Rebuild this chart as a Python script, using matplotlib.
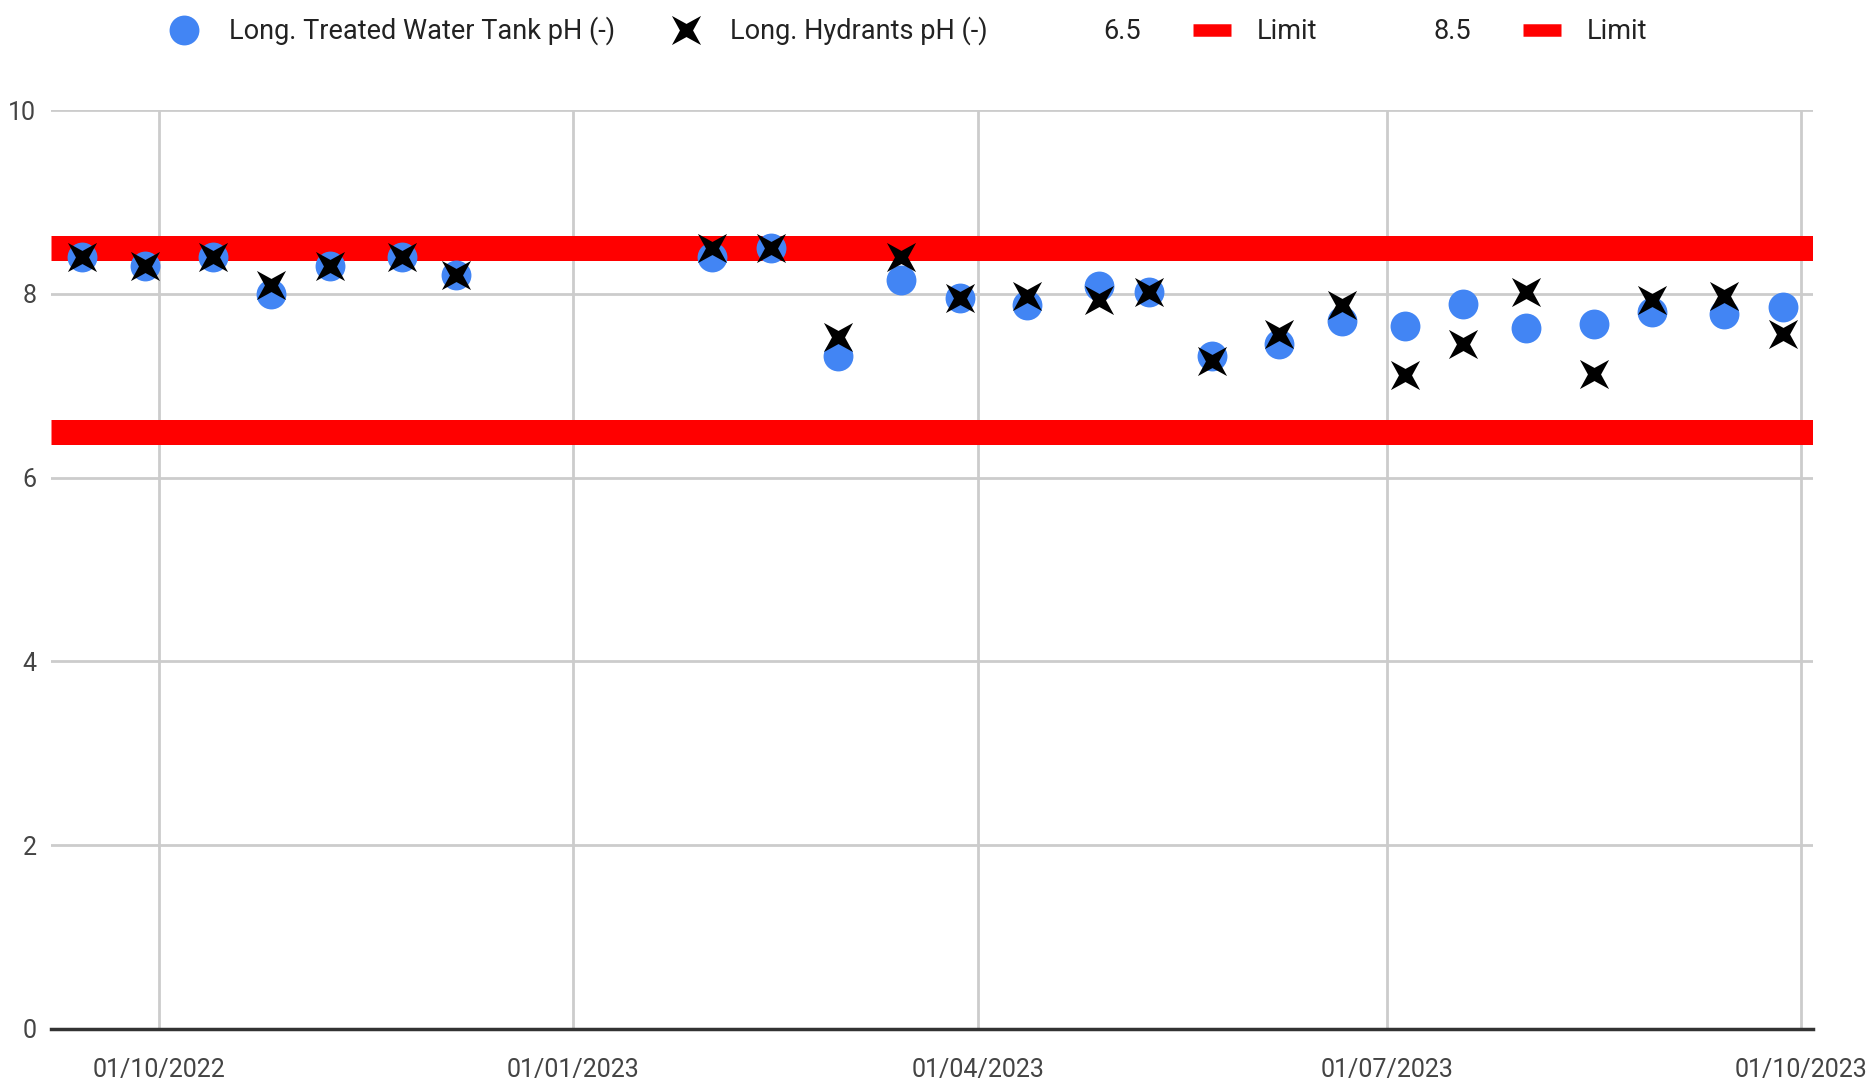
import datetime as dt

import matplotlib
matplotlib.use("Agg")
import matplotlib.pyplot as plt
import matplotlib.dates as mdates
from matplotlib.lines import Line2D

# sampling dates and pH readings
sample_dates = [
    "2022-09-14", "2022-09-28", "2022-10-13", "2022-10-26", "2022-11-08",
    "2022-11-24", "2022-12-06", "2023-02-01", "2023-02-14", "2023-03-01",
    "2023-03-15", "2023-03-28", "2023-04-12", "2023-04-28", "2023-05-09",
    "2023-05-23", "2023-06-07", "2023-06-21", "2023-07-05", "2023-07-18",
    "2023-08-01", "2023-08-16", "2023-08-29", "2023-09-14", "2023-09-27",
]
tank_ph = [
    8.40, 8.30, 8.40, 8.00, 8.30, 8.40, 8.20, 8.40, 8.50, 7.32,
    8.15, 7.95, 7.88, 8.08, 8.02, 7.32, 7.45, 7.70, 7.65, 7.89,
    7.63, 7.67, 7.80, 7.78, 7.86,
]
hydrant_ph = [
    8.40, 8.30, 8.40, 8.10, 8.30, 8.40, 8.20, 8.50, 8.50, 7.53,
    8.40, 7.95, 7.98, 7.93, 8.02, 7.27, 7.56, 7.88, 7.12, 7.45,
    8.02, 7.13, 7.93, 7.98, 7.56,
]
lower_limit = 6.5
upper_limit = 8.5
series_labels = ["Long. Treated Water Tank pH (-)", "Long. Hydrants pH (-)"]
limit_labels = ["6.5", "Limit", "8.5", "Limit"]
y_ticks = [0, 2, 4, 6, 8, 10]

BLUE = "#4285F4"
RED = "#FF0000"
GRID = "#cccccc"

plt.rcParams["font.family"] = ["Roboto", "DejaVu Sans"]

dates = [dt.datetime.strptime(d, "%Y-%m-%d") for d in sample_dates]

# google-style "x": four pointed arms with a fat middle
x_marker = [(1, 1), (0, 0.45), (-1, 1), (-0.45, 0), (-1, -1),
            (0, -0.45), (1, -1), (0.45, 0), (1, 1)]

fig = plt.figure(figsize=(18.76, 10.86), dpi=100)
ax = fig.add_axes([0.02719, 0.05249, 0.93923, 0.84622])

ax.axhline(lower_limit, color=RED, lw=18, solid_capstyle="butt", zorder=2)
ax.axhline(upper_limit, color=RED, lw=18, solid_capstyle="butt", zorder=2)
ax.plot(dates, tank_ph, ls="none", marker="o", ms=21.5, color=BLUE,
        mec="none", zorder=3)
ax.plot(dates, hydrant_ph, ls="none", marker=x_marker, ms=21, color="black",
        mec="none", zorder=4)

start = mdates.date2num(dt.datetime(2022, 10, 1))
ax.set_xlim(start - 24.0, start + 367.7)
ax.set_ylim(0, 10)
ax.set_yticks(y_ticks)
ax.xaxis.set_major_locator(mdates.MonthLocator(bymonth=[1, 4, 7, 10]))
ax.xaxis.set_major_formatter(mdates.DateFormatter("%d/%m/%Y"))

ax.grid(True, color=GRID, lw=2, zorder=0)
ax.set_axisbelow(True)
for side in ["top", "right", "left"]:
    ax.spines[side].set_visible(False)
ax.spines["bottom"].set_color("#333333")
ax.spines["bottom"].set_linewidth(2.5)
ax.spines["bottom"].set_zorder(5)
ax.tick_params(axis="both", length=0, labelsize=18, labelcolor="#444444")
ax.tick_params(axis="y", pad=10.5)
ax.tick_params(axis="x", pad=21)

handles = [
    Line2D([], [], ls="none", marker="o", ms=21.5, color=BLUE, mec="none"),
    Line2D([], [], ls="none", marker=x_marker, ms=21, color="black", mec="none"),
    Line2D([], [], ls="none"),
    Line2D([], [], color=RED, lw=9, solid_capstyle="butt"),
    Line2D([], [], ls="none"),
    Line2D([], [], color=RED, lw=9, solid_capstyle="butt"),
]
fig.legend(handles, series_labels + limit_labels, loc="center left",
           bbox_to_anchor=(165 / 1876, 1 - 31 / 1086), ncol=6, frameon=False,
           fontsize=19.5, labelcolor="#222222", borderpad=0, borderaxespad=0,
           handlelength=1.4, handletextpad=0.95, columnspacing=1.92)

fig.savefig("out.png", dpi=100)
